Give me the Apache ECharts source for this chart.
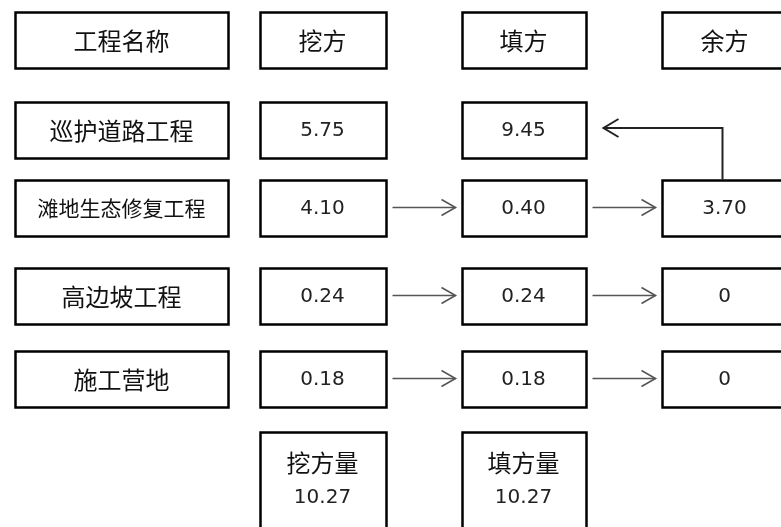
<!DOCTYPE html>
<html><head><meta charset="utf-8">
<script src="https://cdn.jsdelivr.net/npm/echarts@6/dist/echarts.min.js"></script>
<style>html,body{margin:0;padding:0;background:#fff}#c{width:781px;height:527px}</style>
</head><body><div id="c"></div>
<script>
// ---- data ----
const headers = ['工程名称', '挖方', '填方', '余方'];
const projects = ['巡护道路工程', '滩地生态修复工程', '高边坡工程', '施工营地'];
const cutValues = [5.75, 4.10, 0.24, 0.18];
const fillValues = [9.45, 0.40, 0.24, 0.18];
const surplusValues = [null, 3.70, 0, 0];
const totalLabels = ['挖方量', '填方量'];
const totalValues = [10.27, 10.27];
// surplus of project index 1 is transferred to fill of project index 0
const transfers = [[1, 0]];

// ---- layout (not data) ----
const gridLeft = 21, gridW = 760, colSpacing = 201;
const rowCenter = [40, 130, 207.5, 295.5, 378.5];
const rowH = 56;
const totalTop = 432, totalH = 100, totalLine1 = 463, totalLine2 = 498;
const colW = [213, 126, 124, 126];
const cnFont = '"Noto Sans CJK SC", sans-serif';
const numFont = '"DejaVu Sans", sans-serif';
const cnSize = 24, cnSmall = 21, numSize = 20;

function fmt(v) { return v === 0 ? '0' : v.toFixed(2); }

const cells = [];
headers.forEach((h, c) => cells.push({ value: [c, rowCenter[0]], text: h, kind: 'cn', h: rowH }));
projects.forEach((p, i) => {
  const y = rowCenter[i + 1];
  cells.push({ value: [0, y], text: p, kind: p.length > 6 ? 'cnS' : 'cn', h: rowH });
  cells.push({ value: [1, y], text: fmt(cutValues[i]), kind: 'num', h: rowH });
  cells.push({ value: [2, y], text: fmt(fillValues[i]), kind: 'num', h: rowH });
  if (surplusValues[i] !== null) cells.push({ value: [3, y], text: fmt(surplusValues[i]), kind: 'num', h: rowH });
});
totalLabels.forEach((t, k) => {
  cells.push({ value: [k + 1, totalTop + totalH / 2], text: t, text2: fmt(totalValues[k]), kind: 'total', h: totalH });
});

const arrows = [];
projects.forEach((p, i) => {
  if (surplusValues[i] !== null) {
    arrows.push({ value: [1, rowCenter[i + 1]], type: 'h' });
    arrows.push({ value: [2, rowCenter[i + 1]], type: 'h' });
  }
});
transfers.forEach(([from, to]) => {
  arrows.push({ value: [3, rowCenter[from + 1]], toY: rowCenter[to + 1], type: 'up' });
});

function head(x, y, dir, color, w, L, H) {
  return { type: 'polyline', shape: { points: [[x - dir * L, y - H], [x, y], [x - dir * L, y + H]] },
    style: { stroke: color, lineWidth: w, fill: null } };
}

const chart = echarts.init(document.getElementById('c'), null, { renderer: 'canvas' });
chart.setOption({
  animation: false,
  grid: { left: gridLeft, top: 0, width: gridW, height: 527 },
  xAxis: { type: 'value', min: -0.5, max: -0.5 + gridW / colSpacing, show: false },
  yAxis: { type: 'value', min: 0, max: 527, inverse: true, show: false },
  series: [
    {
      type: 'custom', clip: false,
      data: cells,
      renderItem: function (params, api) {
        const d = cells[params.dataIndex];
        const c = d.value[0];
        const pt = api.coord([c, d.value[1]]);
        const w = colW[c];
        const h = d.h;
        const children = [{
          type: 'rect',
          shape: { x: Math.round(pt[0] - w / 2) + 0.5, y: Math.round(pt[1] - h / 2) + 0.5, width: w, height: h },
          style: { fill: '#fff', stroke: '#000', lineWidth: 2.5 }
        }];
        if (d.kind === 'total') {
          children.push({ type: 'text', style: { text: d.text, x: pt[0], y: totalLine1, align: 'center', verticalAlign: 'middle', fontSize: cnSize, fontFamily: cnFont, fill: '#111' } });
          children.push({ type: 'text', style: { text: d.text2, x: pt[0], y: totalLine2, align: 'center', verticalAlign: 'middle', fontSize: numSize, fontFamily: numFont, fill: '#222' } });
        } else {
          const isNum = d.kind === 'num';
          children.push({ type: 'text', style: {
            text: d.text, x: pt[0], y: pt[1] + 1, align: 'center', verticalAlign: 'middle',
            fontSize: isNum ? numSize : (d.kind === 'cnS' ? cnSmall : cnSize),
            fontFamily: isNum ? numFont : cnFont, fill: isNum ? '#222' : '#111' } });
        }
        return { type: 'group', children: children };
      }
    },
    {
      type: 'custom', clip: false,
      data: arrows,
      renderItem: function (params, api) {
        const a = arrows[params.dataIndex];
        const c = a.value[0];
        const p = api.coord([c, a.value[1]]);
        if (a.type === 'h') {
          const pn = api.coord([c + 1, a.value[1]]);
          const x1 = p[0] + colW[c] / 2 + 7;
          const x2 = pn[0] - colW[c + 1] / 2 - 6;
          const col = '#555';
          return { type: 'group', children: [
            { type: 'line', shape: { x1: x1, y1: p[1], x2: x2, y2: p[1] }, style: { stroke: col, lineWidth: 1.6 } },
            head(x2, p[1], 1, col, 1.6, 14, 8)
          ] };
        } else {
          const pt = api.coord([c - 1, a.toY]);
          const xv = p[0] - 2;
          const yBottom = p[1] - rowH / 2;
          const yTop = pt[1] - 2;
          const xEnd = pt[0] + colW[c - 1] / 2 + 18;
          const col = '#222';
          return { type: 'group', children: [
            { type: 'polyline', shape: { points: [[xv, yBottom], [xv, yTop], [xEnd, yTop]] }, style: { stroke: col, lineWidth: 2, fill: null } },
            head(xEnd, yTop, -1, col, 2, 15, 9)
          ] };
        }
      }
    }
  ]
});
</script></body></html>
